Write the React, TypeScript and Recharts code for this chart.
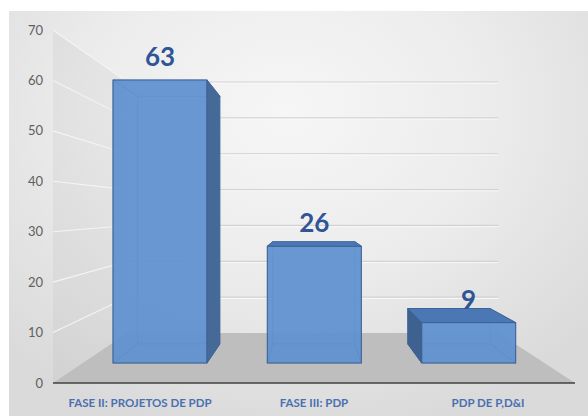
import { BarChart, Bar, XAxis, YAxis, LabelList, ReferenceArea } from 'recharts';

const categories = ['FASE II: PROJETOS DE PDP', 'FASE III: PDP', 'PDP DE P,D&I'];
const counts = [63, 26, 9];
const yTicks = [0, 10, 20, 30, 40, 50, 60, 70];

const data = categories.map((name, i) => ({ name, value: counts[i] }));

// fake perspective: everything recedes toward this point
const VP = { x: 310, y: 210 };
const BAR_DEPTH = 0.125;
const FLOOR_DEPTH = 0.289;

const toBack = (px: number, py: number, k: number): [number, number] => [
  px + k * (VP.x - px),
  py + k * (VP.y - py),
];

const pts = (list: [number, number][]) => list.map((p) => p.join(',')).join(' ');

function Box3D(props: any) {
  const { x, y, width, height } = props;
  if (!height || height <= 0) return null;
  const l = x, r = x + width, t = y, b = y + height;
  const ftl: [number, number] = [l, t];
  const ftr: [number, number] = [r, t];
  const fbr: [number, number] = [r, b];
  const fbl: [number, number] = [l, b];
  const btl = toBack(l, t, BAR_DEPTH);
  const btr = toBack(r, t, BAR_DEPTH);
  const bbr = toBack(r, b, BAR_DEPTH);
  const bbl = toBack(l, b, BAR_DEPTH);

  const faces = [
    { key: 'top', p: [ftl, ftr, btr, btl], show: btl[1] < t, fill: '#4b78b4' },
    { key: 'bottom', p: [fbl, fbr, bbr, bbl], show: bbl[1] > b, fill: '#4b78b4' },
    { key: 'left', p: [ftl, btl, bbl, fbl], show: btl[0] < l, fill: '#3e6190' },
    { key: 'right', p: [ftr, btr, bbr, fbr], show: btr[0] > r, fill: '#466a98' },
  ];
  const edge = '#3c6396';

  return (
    <g>
      {faces.filter((f) => !f.show).map((f) => (
        <polygon key={f.key} points={pts(f.p as any)} fill="none" stroke={edge} strokeWidth={1} strokeOpacity={0.5} />
      ))}
      <rect x={l} y={t} width={width} height={height} fill="#5f90cf" fillOpacity={0.93} stroke={edge} strokeWidth={1} />
      {faces.filter((f) => f.show).map((f) => (
        <polygon key={f.key} points={pts(f.p as any)} fill={f.fill} stroke={edge} strokeWidth={1} strokeLinejoin="round" />
      ))}
    </g>
  );
}

function Room(props: any) {
  const { x, y, width, height } = props;
  if (width == null || height == null) return null;
  const xr = x + width;
  const yFront = (v: number) => y + height * (1 - v / 70);
  const [blx, bly] = toBack(x, y + height, FLOOR_DEPTH);
  const [brx] = toBack(xr, y + height, FLOOR_DEPTH);
  const [, topBack] = toBack(x, y, FLOOR_DEPTH);
  return (
    <g>
      <polygon
        points={pts([[x, y], [blx, topBack], [blx, bly], [x, y + height]])}
        fill="#000"
        fillOpacity={0.035}
      />
      {yTicks.filter((v) => v > 0).map((v) => {
        const yf = yFront(v);
        const [, yb] = toBack(x, yf, FLOOR_DEPTH);
        return (
          <g key={v}>
            <line x1={x} y1={yf} x2={blx} y2={yb} stroke="#f4f4f4" strokeWidth={1.1} />
            <line x1={blx} y1={yb} x2={brx} y2={yb} stroke="#d2d2d2" strokeWidth={1.2} />
            <line x1={blx} y1={yb + 1.3} x2={brx} y2={yb + 1.3} stroke="#f8f8f8" strokeWidth={1} />
          </g>
        );
      })}
      <polygon
        points={pts([[x, y + height], [xr, y + height], [brx, bly], [blx, bly]])}
        fill="#bebebe"
      />
    </g>
  );
}

function ValueLabel(props: any) {
  const { x, y, width, value } = props;
  return (
    <text
      x={x + width / 2}
      y={y - 24}
      textAnchor="middle"
      dominantBaseline="central"
      fontFamily="Lato, 'Open Sans', sans-serif"
      fontWeight={700}
      fontSize={26}
      fill="#2f5597"
    >
      {value}
    </text>
  );
}

export default function App() {
  return (
    <div style={{ position: 'fixed', left: 0, top: 0, width: 588, height: 416, background: '#fff' }}>
      <div
        style={{
          position: 'absolute',
          left: 9,
          top: 11,
          width: 579,
          height: 405,
          background: 'radial-gradient(ellipse 70% 80% at 48% 25%, #f6f6f6 0%, #ececec 50%, #dadada 100%)',
        }}
      />
      <div style={{ position: 'absolute', left: 0, top: 0 }}>
        <BarChart width={588} height={416} data={data} margin={{ top: 30, right: 13, bottom: 0, left: 0 }}>
          <XAxis
            xAxisId="main"
            dataKey="name"
            axisLine={{ stroke: '#404040', strokeWidth: 1.6 }}
            tickLine={false}
            tickMargin={10}
            height={33}
            interval={0}
            tick={{ fill: '#4a70b0', fontSize: 11.5, fontWeight: 700, fontFamily: 'Lato, sans-serif' }}
          />
          <XAxis xAxisId="bar" dataKey="name" hide height={0} padding={{ left: 30, right: 29 }} />
          <YAxis
            yAxisId="main"
            dataKey="value"
            type="number"
            domain={[0, 70]}
            ticks={yTicks}
            allowDataOverflow
            width={53}
            axisLine={false}
            tickLine={false}
            tickSize={0}
            tickMargin={10}
            tick={{ fill: '#606060', fontSize: 13, fontFamily: 'Lato, sans-serif' }}
          />
          <YAxis yAxisId="bar" hide width={0} domain={[-4.452, 74.13]} allowDataOverflow />
          <ReferenceArea xAxisId="main" yAxisId="main" y1={0} y2={70} shape={<Room />} ifOverflow="visible" />
          <Bar
            xAxisId="bar"
            yAxisId="bar"
            dataKey="value"
            barSize={94}
            shape={<Box3D />}
            isAnimationActive={false}
          >
            <LabelList dataKey="value" content={<ValueLabel />} />
          </Bar>
        </BarChart>
      </div>
    </div>
  );
}
